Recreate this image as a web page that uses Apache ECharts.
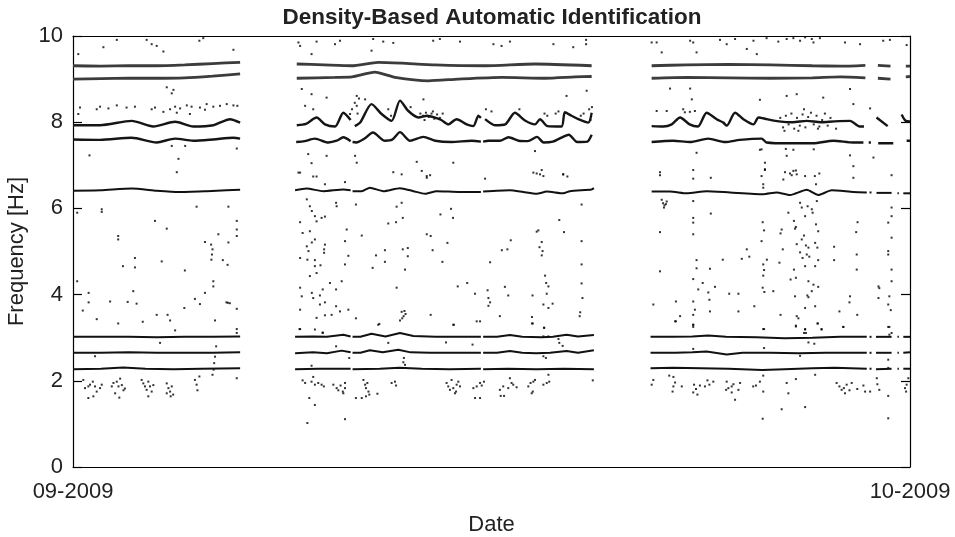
<!DOCTYPE html>
<html>
<head>
<meta charset="utf-8">
<script src="https://cdn.jsdelivr.net/npm/echarts@6/dist/echarts.min.js"></script>
<style>html,body{margin:0;padding:0;background:#fff}#chart{width:955px;height:537px}</style>
</head>
<body>
<div id="chart"></div>
<script>
// x = day offset from 1 Sep 2009 (0..30), y = frequency in Hz
const xTickLabels = ['09-2009', '10-2009'];
const yTicks = [0, 2, 4, 6, 8, 10];

// identified modes (null = break in the record)
const modeA = [[0,2.27],[1.0,2.28],[1.8,2.31],[2.6,2.28],[3.6,2.27],[4.6,2.28],[5.99,2.29],null,
  [7.96,2.27],[8.8,2.28],[9.95,2.28],null,
  [10.02,2.27],[11.0,2.28],[11.7,2.30],[12.5,2.28],[13.5,2.27],[14.62,2.28],null,
  [14.70,2.27],[15.6,2.28],[16.6,2.27],[17.6,2.28],[18.67,2.27],null,
  [20.70,2.29],[21.5,2.30],[22.5,2.29],[23.5,2.28],[24.7,2.25],[25.5,2.27],[26.5,2.29],[27.3,2.30],[28.45,2.28],null,
  [28.55,2.28],[28.62,2.28],null,[28.78,2.27],[29.34,2.28],null,[29.55,2.28],[29.6,2.28],null,[29.76,2.28],[30,2.28]];
const modeB = [[0,2.65],[1,2.65],[2,2.66],[3,2.65],[4,2.65],[5,2.65],[5.99,2.66],null,
  [7.96,2.64],[8.6,2.66],[9.1,2.64],[9.63,2.70],[9.95,2.66],null,
  [10.02,2.65],[10.3,2.65],[10.64,2.71],[11.1,2.66],[11.66,2.72],[12.1,2.66],[12.8,2.65],[13.6,2.65],[14.62,2.65],null,
  [14.70,2.65],[15.2,2.65],[15.66,2.69],[16.1,2.65],[16.6,2.64],[17.1,2.65],[17.69,2.69],[18.1,2.65],[18.67,2.71],null,
  [20.70,2.65],[21.6,2.65],[22.2,2.66],[22.71,2.68],[23.43,2.61],[24.0,2.65],[25.0,2.65],[26.0,2.64],[27.0,2.65],[28.45,2.65],null,
  [28.55,2.65],[28.62,2.65],null,[28.78,2.65],[29.34,2.65],null,[29.55,2.65],[29.6,2.65],null,[29.76,2.65],[30,2.66]];
const modeC = [[0,3.02],[1,3.02],[2,3.02],[3,3.01],[4,3.02],[5,3.02],[5.99,3.03],null,
  [7.96,3.02],[8.6,3.03],[9.1,3.02],[9.69,3.07],[9.95,3.03],null,
  [10.02,3.02],[10.3,3.02],[10.7,3.09],[11.2,3.03],[11.72,3.11],[12.2,3.04],[13.0,3.02],[14.0,3.02],[14.62,3.02],null,
  [14.70,3.02],[15.2,3.02],[15.66,3.06],[16.1,3.02],[16.8,3.01],[17.2,3.02],[17.69,3.07],[18.1,3.03],[18.67,3.06],null,
  [20.7,3.02],[21.5,3.02],[22.2,3.03],[22.77,3.05],[23.4,3.02],[24.5,3.01],[25.5,2.99],[26.5,3.00],[27.5,3.02],[28.45,3.02],null,
  [28.55,3.02],[28.62,3.02],null,[28.78,3.02],[29.34,3.02],null,[29.55,3.02],[29.6,3.02],null,[29.76,3.02],[30,3.02]];
const modeD = [[0,6.41],[1,6.42],[2.1,6.46],[3.0,6.41],[3.8,6.38],[4.8,6.40],[5.5,6.42],[5.99,6.43],null,
  [7.96,6.42],[8.37,6.46],[8.97,6.40],[9.69,6.44],[9.95,6.42],null,
  [10.02,6.40],[10.35,6.40],[10.64,6.48],[11.12,6.40],[11.72,6.47],[12.2,6.40],[12.62,6.34],[13.03,6.40],[13.87,6.38],[14.62,6.38],null,
  [14.70,6.39],[15.66,6.42],[16.14,6.38],[16.62,6.34],[16.98,6.39],[17.57,6.35],[17.81,6.40],[18.59,6.44],[18.67,6.47],null,
  [20.74,6.39],[21.4,6.39],[22.0,6.35],[22.71,6.40],[23.55,6.37],[24.74,6.33],[25.22,6.37],[25.7,6.31],[26.30,6.43],[26.71,6.31],[27.19,6.42],[27.97,6.38],[28.45,6.37],null,
  [28.55,6.37],[28.62,6.37],null,[28.8,6.36],[29.34,6.36],null,[29.55,6.35],[29.6,6.35],null,[29.76,6.35],[30,6.35]];
const modeE = [[0,7.60],[0.97,7.59],[2.10,7.64],[3.0,7.53],[3.66,7.62],[4.31,7.57],[5.03,7.60],[5.75,7.64],[5.99,7.62],null,
  [8.0,7.54],[8.3,7.56],[8.67,7.62],[9.15,7.53],[9.45,7.57],[9.69,7.65],[9.95,7.56],null,
  [10.02,7.54],[10.15,7.53],[10.45,7.62],[10.75,7.76],[11.18,7.57],[11.45,7.60],[11.72,7.77],[12.08,7.57],[12.56,7.66],[12.98,7.57],[13.57,7.54],[14.29,7.57],[14.62,7.55],null,
  [14.70,7.55],[14.89,7.57],[15.3,7.57],[15.61,7.65],[15.97,7.57],[16.3,7.56],[16.63,7.66],[16.87,7.53],[17.2,7.55],[17.53,7.65],[17.77,7.71],[18.07,7.54],[18.43,7.55],[18.59,7.71],null,
  [20.74,7.54],[21.51,7.57],[22.11,7.54],[22.77,7.62],[23.37,7.54],[23.9,7.59],[24.68,7.62],[24.86,7.53],[25.7,7.51],[26.53,7.51],[27.25,7.57],[27.97,7.53],[28.33,7.53],null,
  [28.52,7.53],[28.6,7.53],null,[28.86,7.51],[29.4,7.51],null,[29.88,7.57],[30,7.57]];
const modeF = [[0,7.93],[0.97,7.93],[2.10,8.03],[2.88,7.90],[3.66,8.01],[4.31,7.90],[5.03,7.93],[5.63,8.07],[5.99,7.99],null,
  [8.02,7.93],[8.35,7.96],[8.73,8.11],[9.03,7.95],[9.39,7.90],[9.69,8.22],[9.95,8.05],null,
  [10.1,7.91],[10.3,8.0],[10.7,8.42],[11.06,8.19],[11.42,8.03],[11.72,8.50],[12.02,8.26],[12.38,8.11],[12.7,8.15],[13.0,8.10],[13.2,8.05],[13.45,7.95],[13.75,8.07],[14.11,7.95],[14.35,7.91],[14.53,8.15],[14.62,8.10],null,
  [14.77,8.07],[15.13,7.93],[15.49,7.95],[15.84,8.22],[16.2,8.04],[16.56,7.95],[16.74,8.07],[17.01,7.91],[17.51,7.90],[17.63,8.23],[17.87,8.15],[18.11,8.07],[18.47,7.99],[18.59,8.22],null,
  [20.74,7.91],[21.16,7.90],[21.46,7.95],[21.76,8.11],[22.1,7.95],[22.4,7.90],[22.71,8.22],[23.07,8.07],[23.31,7.99],[23.43,7.92],[23.73,8.22],[24.03,8.07],[24.39,7.95],[24.57,8.11],[24.87,8.07],[25.3,8.02],[25.8,8.0],[26.3,8.03],[26.8,8.0],[27.3,8.02],[27.85,8.03],[28.2,7.90],[28.35,7.90],null,
  [28.8,8.11],[29.2,7.91],null,[29.7,8.18],[29.85,8.03],[30,8.02]];
const modeH = [[0,9.0],[1,9.01],[2,9.02],[3,9.02],[4,9.03],[5,9.07],[5.99,9.12],null,
  [8.02,9.02],[9.39,9.04],[10.0,9.05],[10.82,9.16],[11.54,9.04],[12.74,8.96],[13.81,9.0],[15.37,9.04],[16.92,9.02],[18.0,9.05],[18.59,9.06],null,
  [20.74,9.02],[22,9.04],[23.5,9.03],[25,9.02],[26.5,9.03],[27.5,9.05],[28.4,9.03],null,
  [28.85,9.02],[29.3,9.0],null,[29.85,9.05],[30,9.06]];
const modeI = [[0,9.31],[1,9.30],[2,9.31],[3,9.31],[4,9.33],[5,9.36],[5.99,9.39],null,
  [8.02,9.35],[9.0,9.33],[9.99,9.31],[10.94,9.39],[11.78,9.37],[12.98,9.33],[14.77,9.31],[16.56,9.35],[18.59,9.31],null,
  [20.74,9.31],[22,9.33],[23.5,9.34],[25,9.33],[26.5,9.31],[27.5,9.30],[28.4,9.32],null,
  [28.85,9.32],[29.3,9.30],null,[29.85,9.30],[30,9.30]];

// isolated identifications
const scatterSep1 = [[0.19,9.58],[1.09,9.74],[1.57,9.91],[2.64,9.91],[2.82,9.81],[3.0,9.77],[3.24,9.64],[4.53,9.89],[4.67,9.95],[5.75,9.68],
  [3.36,8.81],[3.54,8.67],[3.60,8.75],[0.59,7.23],[3.54,7.45],[3.78,7.15],[3.72,6.84],[5.87,7.39],[4.02,7.45],
  [0.25,8.34],[0.85,8.30],[0.97,8.36],[1.27,8.32],[1.57,8.39],[1.92,8.34],[2.22,8.36],[2.82,8.30],[2.94,8.34],[3.24,8.24],[3.48,8.30],[3.66,8.36],[3.84,8.32],[4.08,8.39],[4.25,8.36],[4.55,8.34],[4.79,8.42],[5.03,8.36],[5.27,8.38],[5.51,8.42],[5.75,8.39],[5.89,8.38],[4.73,8.29],[3.72,8.22],[4.19,8.19],[0.19,8.19],
  [0.15,5.90],[1.03,5.98],[1.03,5.92],[1.62,5.36],[1.62,5.28],[2.94,5.71],[3.36,5.53],[4.43,6.04],[5.57,6.04],[5.87,5.71],[5.87,5.51],[5.87,5.36],[5.21,5.40],[4.73,5.22],[4.95,5.16],[5.0,5.05],[4.98,4.93],[4.96,4.81],[5.57,5.21],[2.22,4.85],[2.22,4.63],[1.79,4.66],[3.18,4.77],[4.01,4.56],[5.37,4.80],[5.54,4.69],[5.03,4.31],[5.03,4.19],[0.15,4.31],[0.56,4.04],[0.56,3.82],[0.35,3.63],[0.85,3.43],[1.33,3.84],[1.62,3.33],[1.96,3.83],[2.16,4.08],[2.28,3.79],[2.50,3.37],[3.0,3.53],[3.39,3.53],[3.48,3.40],[3.66,3.17],[3.99,3.69],[4.37,3.90],[4.55,3.78],[4.73,4.04],[5.09,3.40],[5.50,3.82],[5.55,3.81],[5.62,3.80],[5.87,3.67],[5.87,3.20],[5.87,3.11],
  [0.37,2.02],[0.43,1.83],[0.55,1.87],[0.61,1.91],[0.71,1.98],[0.79,1.87],[0.85,1.75],[0.97,1.83],[0.55,1.60],[0.73,1.64],[1.03,1.91],
  [1.39,1.87],[1.45,1.95],[1.57,1.98],[1.63,1.87],[1.69,2.05],[1.75,1.90],[1.81,1.78],[1.51,1.71],[1.66,1.61],[1.86,1.82],
  [2.46,2.02],[2.52,1.94],[2.58,1.87],[2.64,1.79],[2.70,1.98],[2.76,1.87],[2.82,1.75],[2.88,1.90],[2.70,1.64],
  [3.36,1.94],[3.42,1.83],[3.48,1.75],[3.54,1.87],[3.59,1.68],[3.36,1.71],[3.50,1.64],
  [4.37,2.02],[4.43,1.91],[4.46,1.78],[4.53,2.10],[5.0,2.14],[5.04,2.26],[5.06,2.41],[5.09,2.56],[5.13,2.80],[5.87,2.06],[3.12,2.88],[0.79,2.57]];
const scatterSep2 = [[8.08,9.85],[8.14,9.77],[8.73,9.87],[9.39,9.81],[9.57,9.89],[10.76,9.93],[11.12,9.87],[11.48,9.84],[12.91,9.89],[13.15,9.93],[13.87,9.87],[15.07,9.81],[15.36,9.77],[15.66,9.87],[17.22,9.81],[17.93,9.74],[18.39,9.91],[18.39,9.81],[8.55,9.58],[10.70,9.66],
  [8.20,8.77],[8.55,8.65],[9.09,8.57],[8.32,8.38],[8.61,8.30],[10.17,8.61],[9.93,8.19],[10.47,8.53],[10.17,8.38],[17.69,8.61],[18.41,8.73],[12.56,8.53],
  [12.45,8.2],[12.55,8.15],[12.65,8.22],[12.75,8.12],[12.85,8.2],[12.95,8.08],[13.05,8.18],[13.15,8.1],[13.25,8.2],[12.6,8.05],[12.9,8.25],[10.0,8.3],[10.1,8.45],[10.2,8.2],[10.25,8.55],[11.3,8.3],[11.4,8.15],[12.1,8.35],[14.8,8.3],[15.0,8.25],[16.0,8.3],[16.9,8.2],[17.0,8.15],[17.3,8.2],[17.4,8.25],[18.2,8.15],[18.3,8.2],[18.5,8.3],[18.6,8.35],[18.55,8.05],
  [8.43,7.26],[9.09,7.22],[8.55,7.05],[10.11,7.22],[10.17,7.06],[12.32,7.08],[13.63,7.06],[12.68,6.75],[16.5,6.83],[16.86,6.75],[17.57,6.79],[16.56,7.33],[8.08,6.83],
  [8.14,6.83],[8.61,6.74],[8.73,6.74],[9.03,6.56],[9.75,6.61],[11.48,6.84],[11.78,6.79],[12.5,6.87],[12.68,6.71],[12.8,6.77],[14.77,6.69],[16.62,6.81],[16.74,6.79],[16.80,6.89],[17.57,6.79],[17.72,6.74],
  [8.38,6.21],[8.49,6.05],[8.56,5.94],[8.67,5.82],[8.73,5.70],[8.91,5.78],[9.03,5.81],[8.14,5.68],[8.23,5.43],[8.49,5.47],[8.38,5.12],[8.56,5.21],[8.67,5.28],[9.0,5.05],[9.0,4.97],[9.03,5.16],[8.44,5.01],[8.40,4.81],[8.67,4.66],[8.73,4.50],[8.87,4.68],[8.49,4.43],[8.67,4.80],[8.14,4.85],[8.14,4.16],[8.20,3.96],[8.14,3.65],[8.12,3.20],[8.56,4.04],[8.61,3.92],[8.85,3.98],[8.85,3.77],[8.95,4.12],[9.03,3.82],[8.73,3.46],[8.95,3.12],[9.21,4.27],[9.43,3.73],[9.43,4.12],[9.43,6.13],[9.45,6.05],[9.03,3.52],[9.27,3.53],[9.57,3.61],[9.63,4.31],[9.75,4.70],[9.75,5.24],[9.81,5.51],[9.87,3.65],[9.87,4.90],[10.14,6.09],[10.14,3.45],[10.35,5.37],[10.74,4.62],[10.86,4.91],[11.18,5.03],[11.18,4.76],[10.98,3.32],[11.30,5.65],[11.58,5.68],[11.60,6.04],[11.78,6.13],[11.82,5.78],[11.82,5.05],[12.0,5.08],[12.0,4.89],[11.9,4.58],[11.6,4.16],[11.78,3.60],[11.85,3.50],[11.8,3.45],[11.92,3.55],[11.88,3.62],[12.68,5.40],[12.82,5.36],[12.89,5.03],[12.82,3.53],[13.24,4.76],[13.42,5.20],[13.17,5.86],[13.55,5.99],[13.62,5.78],[13.63,3.30],[13.79,4.19],[14.13,4.27],[14.41,4.02],[14.59,3.38],[14.86,4.10],[14.89,3.92],[14.89,3.74],[14.95,3.82],[14.95,4.75],[15.30,3.50],[15.37,5.03],[15.48,4.18],[15.57,5.05],[15.60,3.98],[15.69,5.26],[16.45,3.48],[16.45,3.33],[16.47,3.98],[16.62,5.46],[16.68,5.49],[16.72,5.10],[16.80,5.22],[16.83,5.01],[16.80,4.91],[16.92,4.44],[16.96,4.27],[17.04,4.19],[16.98,4.02],[16.86,3.77],[17.04,3.69],[17.19,3.79],[16.89,3.23],[17.43,5.73],[17.60,5.45],[18.23,6.09],[18.23,5.24],[18.23,4.70],[18.23,4.26],[18.26,3.92],[18.18,3.59],[18.16,3.50],
  [8.14,3.20],[8.67,3.19],[8.95,3.11],[10.94,3.30],[11.72,3.40],[13.65,3.30],[14.47,3.38],[16.48,3.33],[16.88,3.23],[13.37,2.89],[14.32,2.84],[9.43,2.80],[11.30,2.88],[17.40,2.97],[17.43,2.88],[17.55,2.81],[16.86,3.03],[17.04,3.03],[16.86,2.57],[16.95,2.53],[9.90,2.53],[11.86,2.53],[11.90,2.37],[11.84,2.43],[8.55,2.35],
  [8.23,2.01],[8.32,1.95],[8.55,1.98],[8.61,2.09],[8.67,1.91],[8.79,1.95],[8.91,1.91],[8.99,1.87],[9.33,1.91],[9.45,1.83],[9.51,1.78],[9.59,1.89],[9.67,1.75],[9.75,1.95],[9.69,1.71],[9.75,1.83],[10.41,2.02],[10.47,1.91],[10.50,1.83],[10.55,1.95],[10.59,1.75],[10.62,1.68],[10.50,1.64],[10.35,1.60],[10.14,1.60],[10.91,1.70],[11.42,1.95],[11.54,1.98],[11.58,1.89],[13.39,1.95],[13.45,1.87],[13.51,1.79],[13.57,2.02],[13.63,1.83],[13.69,1.71],[13.75,1.91],[13.81,1.98],[13.87,1.87],[13.73,1.75],[14.35,1.83],[14.47,1.87],[14.59,1.95],[14.65,1.89],[14.73,1.98],[14.41,1.60],[14.59,1.60],[15.30,1.79],[15.42,1.87],[15.60,1.83],[15.66,2.06],[15.72,1.95],[15.78,1.91],[15.90,1.85],[15.33,1.65],[15.45,1.65],[16.32,1.87],[16.40,1.95],[16.50,1.98],[16.48,1.75],[16.44,1.71],[16.56,2.02],[16.86,1.91],[16.98,1.95],[17.04,2.14],[17.07,1.98],[18.63,2.01],[8.47,1.60],[8.67,1.44],[8.40,1.02],[9.75,1.11]];
const scatterSep3 = [[20.74,9.85],[20.92,9.85],[22.12,9.89],[22.23,9.85],[23.19,9.91],[23.43,9.81],[23.73,9.93],[24.39,9.89],[24.86,9.95],[25.28,9.87],[25.58,9.93],[25.82,9.95],[26.06,9.89],[26.24,9.97],[26.48,9.93],[26.54,9.85],[26.77,9.95],[27.67,9.85],[28.21,9.81],[29.04,9.89],[29.28,9.91],[29.88,9.79],[21.10,9.62],[24.15,9.70],[24.51,9.58],[22.35,9.62],
  [21.40,8.78],[22.12,8.78],[22.18,8.53],[24.62,8.52],[25.58,8.61],[25.94,8.65],[26.89,8.57],[27.85,8.77],[28.57,8.32],[27.97,8.42],
  [20.92,8.26],[21.28,8.26],[21.87,8.30],[21.93,8.23],[22.11,8.24],[22.29,8.26],
  [25.35,8.1],[25.45,7.88],[25.55,8.15],[25.65,7.95],[25.75,8.2],[25.85,7.85],[25.95,8.1],[26.05,7.92],[26.15,8.18],[26.25,7.88],[26.35,8.12],[26.45,8.22],[26.55,7.95],[26.65,8.15],[26.75,7.9],[26.85,8.05],[26.95,8.2],[27.05,7.92],[27.15,8.1],[26.2,8.3],[26.0,7.8],[25.5,7.8],[26.7,7.85],[27.35,7.85],
  [22.35,7.29],[24.62,7.36],[24.80,7.06],[24.80,6.91],[25.58,7.22],[25.82,7.36],[25.94,6.79],[26.24,6.75],[27.85,7.23],[28.69,7.18],[27.97,6.98],[24.68,7.37],[25.55,7.38],[26.55,7.37],
  [21.04,6.84],[21.04,6.77],[22.23,6.89],[22.23,6.69],[22.86,6.71],[24.68,6.75],[24.74,6.56],[24.74,6.48],[24.80,6.89],[25.52,6.84],[25.70,6.81],[25.76,6.77],[25.82,6.87],[25.91,6.88],[26.59,6.75],[26.63,6.56],[26.75,6.81],[27.97,6.71],[29.34,6.77],
  [21.1,6.2],[21.15,6.12],[21.2,6.07],[21.25,6.1],[21.18,6.02],[21.28,6.16],[21.04,5.45],[21.04,4.54],[20.8,3.77],
  [22.23,6.17],[22.23,5.78],[22.23,5.67],[22.23,5.40],[22.35,4.80],[22.35,4.61],[22.23,4.36],[22.41,4.12],[22.23,3.84],[22.29,3.65],[22.23,3.53],[22.23,3.30],[22.23,3.25],[21.61,3.84],[21.76,3.50],[21.61,3.38],[22.57,4.27],[22.77,4.05],[22.81,3.88],[22.83,3.61],[23.01,4.18],[22.83,4.60],[22.86,5.88],[23.29,4.81],[23.52,4.02],[23.85,4.02],[23.85,3.61],[23.97,4.83],[24.15,5.05],[24.24,4.88],[24.42,3.73],
  [24.72,5.68],[24.77,5.49],[24.68,5.24],[24.74,4.70],[24.77,4.57],[24.74,4.44],[24.72,4.16],[24.78,4.06],[24.77,3.20],[24.87,4.81],[25.10,4.08],[25.32,4.74],[25.36,3.53],[25.40,5.51],[25.44,5.05],[25.36,5.42],[25.46,6.67],
  [25.64,5.90],[25.84,5.71],[25.88,5.53],[25.91,5.57],[25.94,5.17],[25.84,4.58],[25.91,4.39],[25.72,4.35],[25.88,3.96],[25.94,3.50],[26.0,3.45],[25.91,3.26],[26.06,6.13],[26.12,6.02],[26.06,4.98],[26.12,5.28],[26.15,4.85],[26.20,5.37],[26.24,5.82],[26.27,5.14],[26.30,4.93],[26.24,4.66],[26.33,6.05],[26.36,5.09],[26.39,4.88],[26.36,4.31],[26.32,3.98],[26.36,3.94],[26.24,3.69],[26.24,3.19],[26.20,3.11],[26.48,5.98],[26.51,5.90],[26.54,4.23],[26.48,4.08],[26.60,5.20],[26.60,4.66],[26.60,3.73],[26.63,5.63],[26.66,6.17],[26.68,5.09],[26.71,5.47],[26.71,4.80],[26.71,4.18],[26.69,3.33],[26.83,3.19],[27.28,5.11],[27.28,4.80],[27.47,3.61],[27.61,3.25],[27.85,3.96],[27.83,3.82],[28.09,4.93],[28.09,4.58],[28.11,3.53],[28.12,5.68],[28.07,5.45],
  [28.87,4.19],[28.90,4.15],[28.87,3.92],[29.22,5.67],[29.26,3.96],[29.22,3.77],[29.22,5.01],[29.22,4.93],[29.26,3.25],[29.34,6.02],[29.34,5.82],[29.34,5.32],[29.34,4.58],[29.34,4.31],[29.31,3.64],[29.34,3.11],
  [21.58,3.38],[22.23,3.30],[24.74,3.20],[25.91,3.28],[26.24,3.20],[26.27,3.11],[26.69,3.33],[26.83,3.20],[27.61,3.25],[29.22,3.25],[29.26,3.07],[26.36,2.89],[26.57,2.86],[24.77,2.76],[22.23,2.74],[26.06,2.58],[29.22,2.49],[29.22,2.30],
  [20.74,1.91],[20.80,2.02],[21.37,2.12],[21.52,2.09],[21.58,1.96],[21.52,1.87],[21.49,1.75],[21.82,1.87],[22.26,1.91],[22.23,1.73],[22.38,1.68],[22.33,1.81],[22.47,1.89],[22.65,1.87],[22.74,2.01],[22.81,1.91],[22.95,1.98],[23.43,1.98],[23.41,1.79],[23.49,1.83],[23.61,1.87],[23.61,1.73],[23.73,1.56],[23.85,1.79],[23.67,1.92],[23.91,1.95],[24.38,1.87],[24.48,1.89],[24.62,1.98],[24.74,1.75],[24.74,2.12],[25.58,1.95],[25.64,1.71],[25.91,2.04],[26.24,1.39],[25.40,1.34],[24.72,1.12],[26.60,2.14],[27.37,1.95],[27.47,1.87],[27.55,1.79],[27.63,1.83],[27.67,1.71],[27.73,1.91],[27.83,1.78],[27.91,1.95],[28.11,1.81],[28.33,1.89],[28.39,1.75],[28.57,1.75],[28.81,2.06],[28.83,1.92],[28.90,1.79],[29.22,1.65],[29.22,1.13],[29.82,1.83],[29.86,1.75],[29.88,1.91],[29.94,2.06]];

const FONT = "'Liberation Sans', Arial, Helvetica, sans-serif";

function segments(arr) {
  const out = []; let cur = [];
  arr.forEach(p => { if (p === null) { if (cur.length) out.push(cur); cur = []; } else cur.push(p); });
  if (cur.length) out.push(cur);
  return out;
}
const lineStyles = [
  [modeA, 2, '#111', 0], [modeB, 2, '#111', 0], [modeC, 2, '#111', 0], [modeD, 2, '#111', 0.2],
  [modeE, 2.4, '#151515', 0.25], [modeF, 2.4, '#151515', 0.25], [modeH, 2.8, '#3c3c3c', 0.2], [modeI, 2.8, '#3c3c3c', 0.2]
];
const series = [];
lineStyles.forEach(([arr, w, c, sm]) => {
  segments(arr).forEach(seg => {
    series.push({ type: 'line', data: seg, showSymbol: false, symbol: 'none', silent: true, smooth: sm,
      lineStyle: { width: w, color: c }, animation: false, z: 3 });
  });
});
series.push({ type: 'scatter', data: scatterSep1.concat(scatterSep2, scatterSep3), symbol: 'rect',
  symbolSize: 2, itemStyle: { color: '#000' }, silent: true, animation: false, z: 2 });

const chart = echarts.init(document.getElementById('chart'), null, { renderer: 'canvas' });
chart.setOption({
  backgroundColor: '#fff',
  animation: false,
  title: { text: 'Density-Based Automatic Identification', left: 492, top: 6, textAlign: 'center', padding: 0,
    textStyle: { fontFamily: FONT, fontSize: 22.5, fontWeight: 'bold', color: '#222' } },
  grid: { left: 73, right: 45, top: 36, bottom: 70, show: false, containLabel: false, outerBoundsMode: 'none' },
  xAxis: [
    { type: 'value', min: 0, max: 30, interval: 30, position: 'bottom',
      axisLine: { show: true, onZero: false, lineStyle: { color: '#000', width: 1.2 } },
      axisTick: { show: false }, splitLine: { show: false },
      axisLabel: { show: true, showMinLabel: true, showMaxLabel: true, margin: 14, fontFamily: FONT, fontSize: 22, color: '#222',
        formatter: v => (v === 0 ? xTickLabels[0] : xTickLabels[1]) },
      name: 'Date', nameLocation: 'middle', nameGap: 47, nameTextStyle: { fontFamily: FONT, fontSize: 22, color: '#222' } },
    { type: 'value', min: 0, max: 30, interval: 30, position: 'top',
      axisLine: { show: true, onZero: false, lineStyle: { color: '#000', width: 1.2 } },
      axisTick: { show: false }, axisLabel: { show: false }, splitLine: { show: false } }
  ],
  yAxis: [
    { type: 'value', min: yTicks[0], max: yTicks[yTicks.length - 1], interval: 2, position: 'left',
      axisLine: { show: true, onZero: false, lineStyle: { color: '#000', width: 1.2 } },
      axisTick: { show: true, inside: true, length: 9, lineStyle: { color: '#000', width: 1.2 } },
      splitLine: { show: false },
      axisLabel: { margin: 10, fontFamily: FONT, fontSize: 22, color: '#222' },
      name: 'Frequency [Hz]', nameLocation: 'middle', nameGap: 32, nameTextStyle: { fontFamily: FONT, fontSize: 22, color: '#222' } },
    { type: 'value', min: 0, max: 10, interval: 2, position: 'right',
      axisLine: { show: true, onZero: false, lineStyle: { color: '#000', width: 1.2 } },
      axisTick: { show: true, inside: true, length: 9, lineStyle: { color: '#000', width: 1.2 } },
      axisLabel: { show: false }, splitLine: { show: false } }
  ],
  series: series
});
</script>
</body>
</html>
